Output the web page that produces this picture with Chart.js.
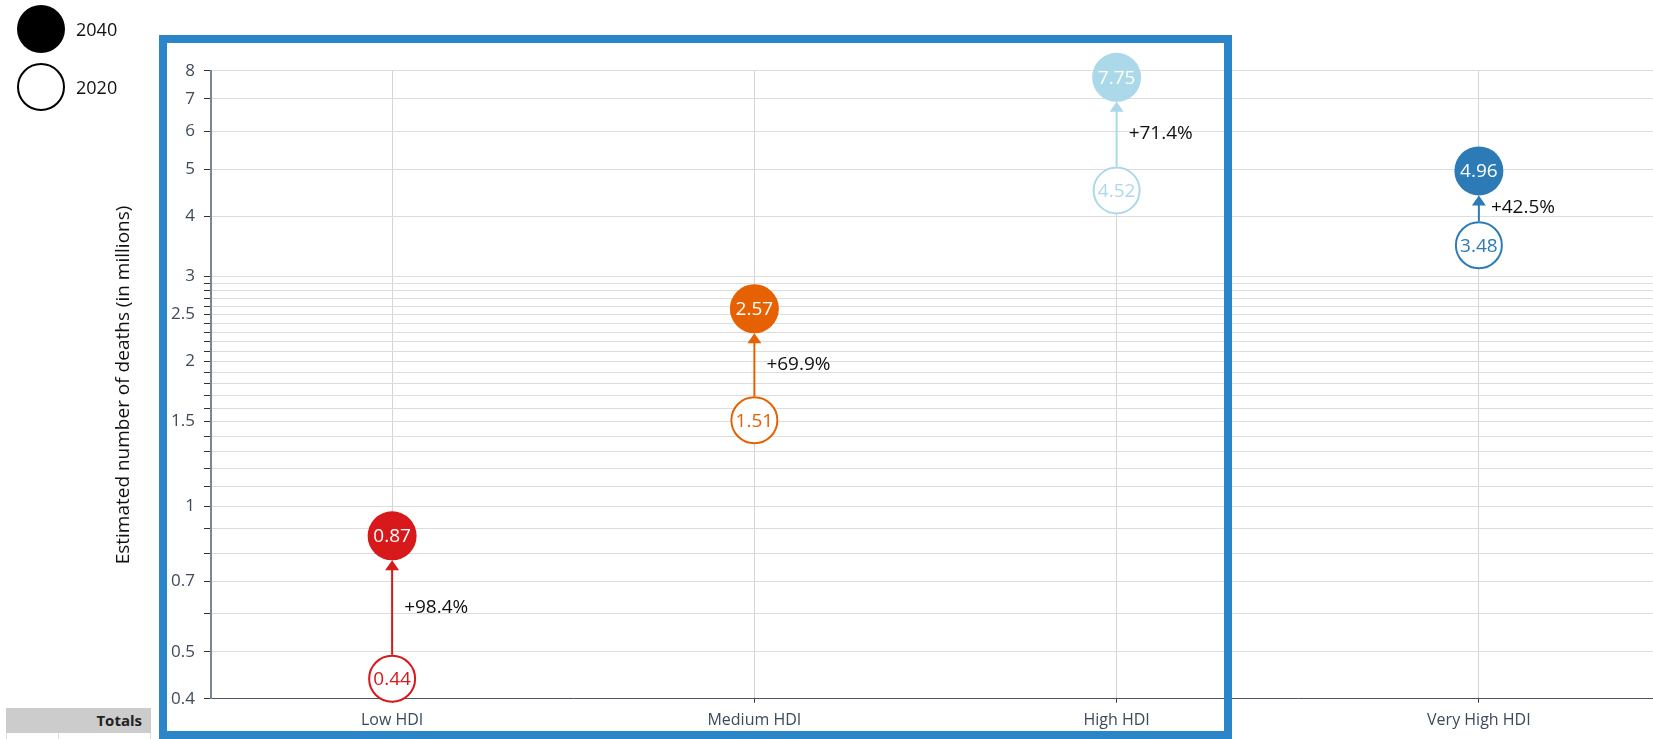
<!DOCTYPE html>
<html>
<head>
<meta charset="utf-8">
<title>Estimated deaths by HDI</title>
<script src="https://cdn.jsdelivr.net/npm/chart.js@4.4.0/dist/chart.umd.min.js"></script>
<style>
    html, body { margin: 0; padding: 0; width: 1653px; height: 739px; overflow: hidden; background: #fff; font-family: "Open Sans", sans-serif; }
    #chart { position: absolute; left: 0; top: 0; }
    .legend-item { position: absolute; left: 17px; height: 48px; display: flex; align-items: center; font-size: 18px; color: #111; }
    .dot { width: 48px; height: 48px; border-radius: 50%; box-sizing: border-box; margin-right: 11px; }
    .dot.filled { background: #000; }
    .dot.hollow { background: #fff; border: 2px solid #000; }
    #highlight { position: absolute; left: 159px; top: 35px; width: 1073px; height: 704px; box-sizing: border-box; border: 8px solid #2b86c9; pointer-events: none; }
    #totals { position: absolute; left: 6px; top: 708px; width: 145px; height: 25px; background: #cccccc; font-size: 15px; font-weight: bold; color: #222; text-align: right; line-height: 25px; box-sizing: border-box; padding-right: 9px; }
    #totals-row { position: absolute; left: 6px; top: 733px; width: 145px; height: 10px; box-sizing: border-box; border-left: 1px solid #ddd; border-right: 1px solid #ddd; }
    #totals-row div { position: absolute; left: 51px; top: 0; width: 1px; height: 10px; background: #ddd; }
</style>
</head>
<body>
<canvas id="chart" width="1660" height="739"></canvas>
<div class="legend-item" style="top:5px"><div class="dot filled"></div>2040</div>
<div class="legend-item" style="top:63px"><div class="dot hollow"></div>2020</div>
<div id="highlight"></div>
<div id="totals">Totals</div>
<div id="totals-row"><div></div></div>
<script>
// Data
const categories = ['Low HDI', 'Medium HDI', 'High HDI', 'Very High HDI'];
const deaths2040 = [0.87, 2.57, 7.75, 4.96];
const deaths2020 = [0.44, 1.51, 4.52, 3.48];
const changePct = [98.4, 69.9, 71.4, 42.5];
const groupColors = ['#d7191c', '#e66101', '#abd9e9', '#2c7bb6'];

// Y axis ticks (log scale)
const yTickValues = [0.4, 0.5, 0.6, 0.7, 0.8, 0.9, 1, 1.1, 1.2, 1.3, 1.4, 1.5, 1.6, 1.7, 1.8, 1.9,
    2, 2.1, 2.2, 2.3, 2.4, 2.5, 2.6, 2.7, 2.8, 2.9, 3, 4, 5, 6, 7, 8];
const yTickLabels = [0.4, 0.5, 0.7, 1, 1.5, 2, 2.5, 3, 4, 5, 6, 7, 8];
const yTitle = 'Estimated number of deaths (in millions)';

const R_NEW = 24.5;
const R_OLD = 23;
const FONT = '"Open Sans", sans-serif';

// Arrows, change labels, values in circles, rotated axis title
const dumbbellPlugin = {
    id: 'dumbbell',
    beforeDatasetsDraw(chart) {
        const ctx = chart.ctx;
        const newPts = chart.getDatasetMeta(0).data;
        const oldPts = chart.getDatasetMeta(1).data;
        categories.forEach((c, i) => {
            const x = newPts[i].x;
            const apex = newPts[i].y + R_NEW;
            const start = oldPts[i].y - R_OLD - 1;
            ctx.save();
            ctx.strokeStyle = groupColors[i];
            ctx.fillStyle = groupColors[i];
            ctx.lineWidth = 2;
            ctx.beginPath();
            ctx.moveTo(x, start);
            ctx.lineTo(x, apex + 9);
            ctx.stroke();
            ctx.beginPath();
            ctx.moveTo(x, apex);
            ctx.lineTo(x - 7, apex + 10);
            ctx.lineTo(x + 7, apex + 10);
            ctx.closePath();
            ctx.fill();

            ctx.fillStyle = '#111';
            ctx.font = '19px ' + FONT;
            ctx.textAlign = 'left';
            ctx.textBaseline = 'middle';
            ctx.fillText('+' + changePct[i].toFixed(1) + '%', x + 12, (newPts[i].y + oldPts[i].y) / 2);
            ctx.restore();
        });
    },
    afterDatasetsDraw(chart) {
        const ctx = chart.ctx;
        const newPts = chart.getDatasetMeta(0).data;
        const oldPts = chart.getDatasetMeta(1).data;
        ctx.save();
        ctx.font = '19px ' + FONT;
        ctx.textAlign = 'center';
        ctx.textBaseline = 'middle';
        categories.forEach((c, i) => {
            ctx.fillStyle = '#fff';
            ctx.fillText(deaths2040[i].toFixed(2), newPts[i].x, newPts[i].y + 1);
            ctx.fillStyle = groupColors[i];
            ctx.fillText(deaths2020[i].toFixed(2), oldPts[i].x, oldPts[i].y + 1);
        });
        ctx.restore();
    },
    afterDraw(chart) {
        const ctx = chart.ctx;
        ctx.save();
        ctx.translate(124, 385);
        ctx.rotate(-Math.PI / 2);
        ctx.font = '19px ' + FONT;
        ctx.fillStyle = '#111';
        ctx.textAlign = 'center';
        ctx.textBaseline = 'middle';
        ctx.fillText(yTitle, 0, 0);
        ctx.restore();
    }
};

const ctx = document.getElementById('chart').getContext('2d');
const chart = new Chart(ctx, {
    type: 'line',
    data: {
        labels: categories,
        datasets: [
            {
                label: '2040',
                data: deaths2040,
                showLine: false,
                pointRadius: R_NEW,
                pointBorderWidth: 0,
                pointBackgroundColor: groupColors,
                pointBorderColor: groupColors,
                clip: false
            },
            {
                label: '2020',
                data: deaths2020,
                showLine: false,
                pointRadius: R_OLD,
                pointBorderWidth: 2,
                pointBackgroundColor: '#ffffff',
                pointBorderColor: groupColors,
                clip: false
            }
        ]
    },
    options: {
        responsive: false,
        animation: false,
        events: [],
        layout: { autoPadding: false, padding: { left: 0, top: 70.7, right: 0, bottom: 0 } },
        plugins: {
            legend: { display: false },
            tooltip: { enabled: false }
        },
        scales: {
            x: {
                offset: true,
                grid: { offset: false, color: '#d4d4d4', tickColor: '#333', tickLength: 4 },
                border: { color: '#4a5568', width: 1 },
                ticks: { color: '#3d4a5c', font: { family: FONT, size: 16 }, padding: 8 },
                afterFit: s => { s.height = 40.3; }
            },
            y: {
                type: 'logarithmic',
                min: 0.4,
                max: 8,
                grid: { color: '#dddddd', tickColor: '#333', tickLength: 7 },
                border: { color: '#7a8694', width: 2 },
                ticks: {
                    autoSkip: false,
                    color: '#3d4a5c',
                    font: { family: FONT, size: 17 },
                    padding: 9,
                    callback: v => yTickLabels.includes(v) ? String(v) : ''
                },
                afterBuildTicks: s => { s.ticks = yTickValues.map(v => ({ value: v })); },
                afterFit: s => { s.width = 211; }
            }
        }
    },
    plugins: [dumbbellPlugin]
});
</script>
</body>
</html>
